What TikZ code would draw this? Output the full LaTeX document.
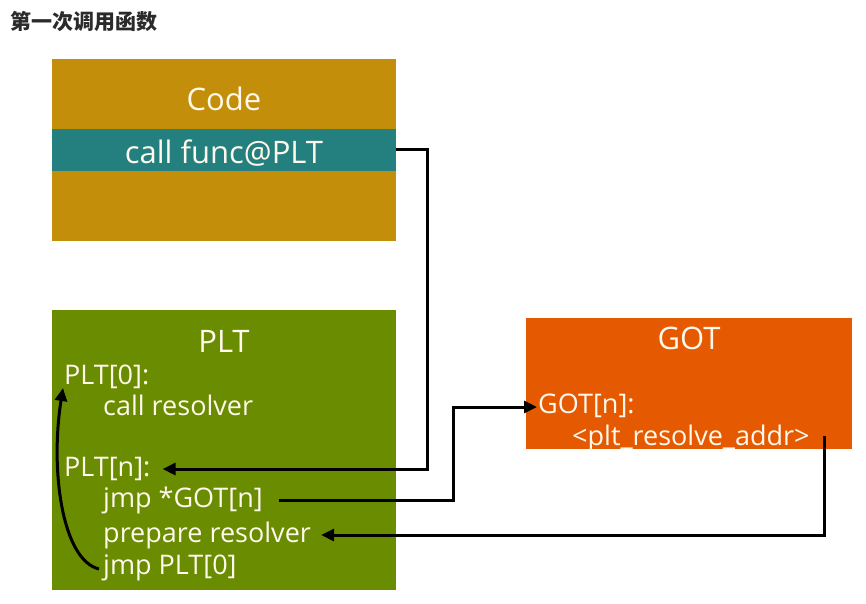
\documentclass[tikz,border=0pt]{standalone}
\usepackage{fontspec}
\setmainfont{Open Sans}
\newfontfamily\cjk{Noto Sans CJK SC}
\usetikzlibrary{arrows.meta}
\definecolor{codegold}{HTML}{C38E0A}
\definecolor{codeteal}{HTML}{23807E}
\definecolor{pltgreen}{HTML}{6A8C00}
\definecolor{gotorange}{HTML}{E55A00}
\definecolor{txtcream}{HTML}{FFF8EC}
\definecolor{titlegray}{HTML}{2B2B2B}
\tikzset{
  box/.style={draw=none, inner sep=0pt, anchor=north west},
  lbl/.style={text=txtcream, inner sep=0pt, font=\fontsize{27}{31}\selectfont, text height=19pt, text depth=6pt, yshift=-3pt},
  head/.style={lbl, font=\fontsize{31}{35}\selectfont, yshift=-3pt},
  conn/.style={line width=3pt, draw=black, -{Triangle[length=13pt,width=12pt]}},
}
\begin{document}
\begin{tikzpicture}[x=1pt,y=-1pt]
\useasboundingbox (0,0) rectangle (866,603);
% title
\node[anchor=west, inner sep=0pt, text=titlegray, font=\cjk\bfseries\fontsize{21}{25}\selectfont] (title) at (10,22) {第一次调用函数};
% Code box
\node[box, fill=codegold, minimum width=344pt, minimum height=182pt] (code) at (52,59) {};
\node[box, fill=codeteal, minimum width=344pt, minimum height=42pt] (teal) at (52,129) {};
\node[head] (codet) at (224,98) {Code};
\node[head] (callt) at (224,151) {call func@PLT};
% PLT box
\node[box, fill=pltgreen, minimum width=344pt, minimum height=280pt] (plt) at (52,310) {};
\node[head] (pltt) at (224,340) {PLT};
\node[lbl, anchor=west] (plt0) at (64,375) {PLT[0]:};
\node[lbl, anchor=west] (callres) at (103,406) {call resolver};
\node[lbl, anchor=west] (pltn) at (64,467) {PLT[n]:};
\node[lbl, anchor=west] (jmpgot) at (103,498) {jmp *GOT[n]};
\node[lbl, anchor=west] (prep) at (103,533) {prepare resolver};
\node[lbl, anchor=west] (jmp0) at (103,565) {jmp PLT[0]};
% GOT box
\node[box, fill=gotorange, minimum width=326pt, minimum height=131pt] (got) at (526,318) {};
\node[head] (gott) at (689,337) {GOT};
\node[lbl, anchor=west] (gotn) at (538,404) {GOT[n]:};
\node[lbl, anchor=west] (addr) at (572,436) {<plt\_resolve\_addr>};
% connectors
\coordinate (c1) at (427,149);
\draw[conn] (teal.east |- c1) -- (c1) |- ([xshift=12pt,yshift=1pt]pltn.east);
\coordinate (c2) at (453,500);
\draw[conn] ([xshift=16pt]jmpgot.east |- c2) -- (c2) |- ([xshift=-1pt]gotn.west);
\coordinate (c3) at (824,436);
\coordinate (c4) at (824,535);
\draw[conn] (c3) -- (c4) -- ([xshift=10pt]prep.east |- c4);
\draw[conn] ([xshift=-4pt,yshift=-1pt]jmp0.west) .. controls (62,560) and (50,470) .. (63,388);
\end{tikzpicture}
\end{document}
